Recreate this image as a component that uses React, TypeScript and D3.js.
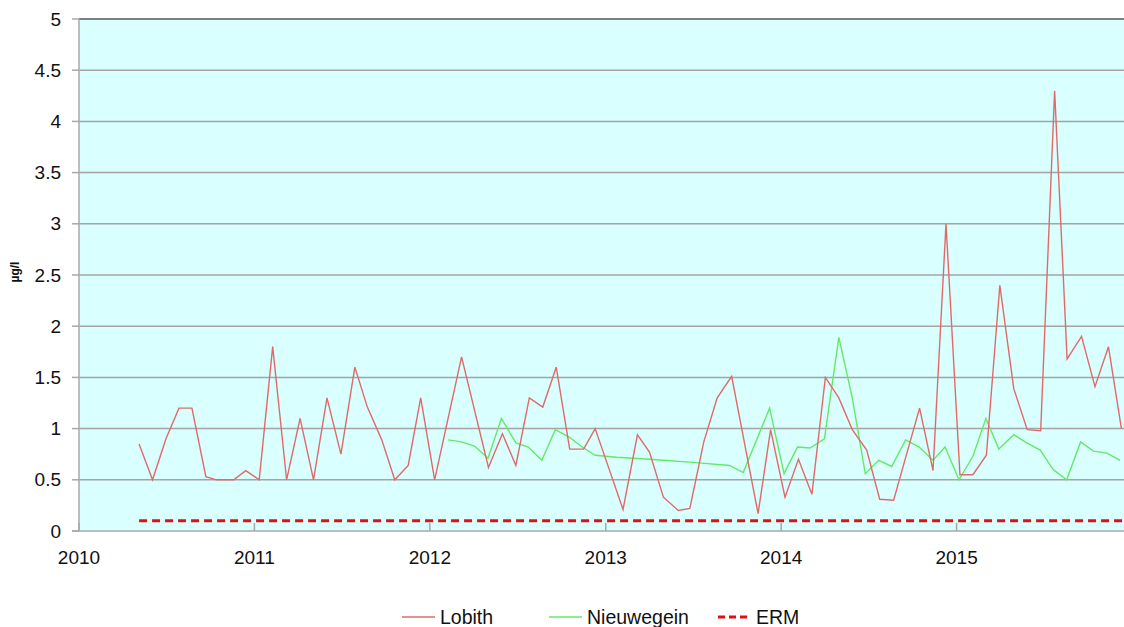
import React from 'react';
import * as d3 from 'd3';

// measurements, 4-weekly sampling
const lobithDates = [
  '2010-05-06', '2010-06-03', '2010-07-01', '2010-07-28', '2010-08-24', '2010-09-22', '2010-10-14',
  '2010-11-19', '2010-12-14', '2011-01-11', '2011-02-08', '2011-03-09', '2011-04-06', '2011-05-04',
  '2011-06-01', '2011-06-30', '2011-07-29', '2011-08-24', '2011-09-23', '2011-10-20', '2011-11-17',
  '2011-12-13', '2012-01-11', '2012-03-07', '2012-05-02', '2012-05-31', '2012-06-28', '2012-07-26',
  '2012-08-23', '2012-09-20', '2012-10-18', '2012-11-16', '2012-12-10', '2013-02-06', '2013-03-08',
  '2013-04-02', '2013-05-01', '2013-06-01', '2013-06-25', '2013-07-24', '2013-08-21', '2013-09-20',
  '2013-11-14', '2013-12-10', '2014-01-09', '2014-02-06', '2014-03-06', '2014-04-03', '2014-05-01',
  '2014-05-29', '2014-06-28', '2014-07-25', '2014-08-23', '2014-10-16', '2014-11-13', '2014-12-10',
  '2015-01-08', '2015-02-04', '2015-03-04', '2015-04-01', '2015-04-30', '2015-05-28', '2015-06-25',
  '2015-07-24', '2015-08-19', '2015-09-18', '2015-10-16', '2015-11-13', '2015-12-10'
];
const lobithValues = [
  0.85, 0.5, 0.9, 1.2, 1.2, 0.53, 0.5,
  0.5, 0.59, 0.5, 1.8, 0.5, 1.1, 0.5,
  1.3, 0.75, 1.6, 1.21, 0.89, 0.5, 0.64,
  1.3, 0.5, 1.7, 0.62, 0.95, 0.64, 1.3,
  1.21, 1.6, 0.8, 0.8, 1.0, 0.21, 0.94,
  0.77, 0.33, 0.2, 0.22, 0.87, 1.3, 1.51,
  0.17, 0.99, 0.33, 0.7, 0.36, 1.5, 1.3,
  0.99, 0.79, 0.31, 0.3, 1.2, 0.59, 3.0,
  0.55, 0.55, 0.74, 2.4, 1.39, 0.99, 0.98,
  4.3, 1.68, 1.9, 1.41, 1.8, 1.0
];

const nieuwegeinDates = [
  '2012-02-08', '2012-03-07', '2012-04-03', '2012-05-01', '2012-05-29', '2012-06-28', '2012-07-24',
  '2012-08-21', '2012-09-18', '2012-10-16', '2012-11-13', '2012-12-10', '2013-01-24', '2013-04-03',
  '2013-07-01', '2013-09-16', '2013-10-14', '2013-12-08', '2014-01-07', '2014-02-04', '2014-03-02',
  '2014-04-01', '2014-05-01', '2014-05-29', '2014-06-25', '2014-07-23', '2014-08-19', '2014-09-17',
  '2014-10-15', '2014-11-13', '2014-12-08', '2015-01-06', '2015-02-04', '2015-03-03', '2015-03-30',
  '2015-04-30', '2015-05-27', '2015-06-24', '2015-07-21', '2015-08-18', '2015-09-16', '2015-10-13',
  '2015-11-10', '2015-12-07'
];
const nieuwegeinValues = [
  0.89, 0.87, 0.83, 0.71, 1.1, 0.86, 0.82,
  0.69, 0.99, 0.92, 0.82, 0.74, 0.72, 0.7,
  0.67, 0.64, 0.57, 1.2, 0.56, 0.82, 0.81,
  0.9, 1.89, 1.3, 0.56, 0.69, 0.63, 0.89,
  0.82, 0.69, 0.82, 0.5, 0.73, 1.1, 0.8,
  0.94, 0.86, 0.79, 0.6, 0.5, 0.87, 0.78,
  0.76, 0.69
];

const ermDates = ['2010-05-06', '2016-01-01'];
const ermValues = [0.1, 0.1];

const yTicks = [0, 0.5, 1, 1.5, 2, 2.5, 3, 3.5, 4, 4.5, 5];
const xTickYears = [2010, 2011, 2012, 2013, 2014, 2015];

const legendItems = [
  { label: 'Lobith', color: '#e06a6a', width: 1.4, dash: '' },
  { label: 'Nieuwegein', color: '#66e866', width: 1.4, dash: '' },
  { label: 'ERM', color: '#e01010', width: 3, dash: '7,4' }
];

const W = 1124;
const H = 627;
const margin = { left: 79, top: 19, right: 1132, bottom: 531 };
const font = '"Liberation Sans", Arial, sans-serif';

const parse = d3.timeParse('%Y-%m-%d');

const App = () => {
  const x = d3
    .scaleTime()
    .domain([new Date(2010, 0, 1), new Date(2016, 0, 1)])
    .range([margin.left, margin.right]);
  const y = d3.scaleLinear().domain([0, 5]).range([margin.bottom, margin.top]);

  const line = d3
    .line<[Date, number]>()
    .x(d => x(d[0]))
    .y(d => y(d[1]));

  const toPts = (dates: string[], vals: number[]) =>
    dates.map((d, i) => [parse(d) as Date, vals[i]] as [Date, number]);

  const lobith = toPts(lobithDates, lobithValues);
  const nieuwegein = toPts(nieuwegeinDates, nieuwegeinValues);
  const erm = toPts(ermDates, ermValues);

  const legendX = [402, 549, 718];

  return (
    <svg
      width={W}
      height={H}
      style={{ position: 'absolute', left: 0, top: 0, background: '#fff' }}
      fontFamily={font}
    >
      <defs>
        <clipPath id='plot'>
          <rect x={margin.left} y={margin.top} width={margin.right - margin.left} height={margin.bottom - margin.top} />
        </clipPath>
      </defs>
      <rect
        x={margin.left}
        y={margin.top}
        width={margin.right - margin.left}
        height={margin.bottom - margin.top}
        fill='#d9ffff'
      />
      {yTicks.slice(1).map(t => (
        <line
          key={t}
          x1={margin.left}
          x2={margin.right}
          y1={y(t)}
          y2={y(t)}
          stroke={t === 5 ? '#7f7f7f' : '#a4a4a4'}
          strokeWidth={t === 5 ? 2 : 1.5}
        />
      ))}
      {/* axes */}
      <line x1={margin.left} x2={margin.left} y1={margin.top} y2={margin.bottom} stroke='#a8a8a8' strokeWidth={1.5} />
      <line x1={margin.left - 7} x2={margin.right} y1={margin.bottom} y2={margin.bottom} stroke='#a8a8a8' strokeWidth={1.5} />
      {yTicks.map(t => (
        <g key={t}>
          <line x1={margin.left - 7} x2={margin.left} y1={y(t)} y2={y(t)} stroke='#a8a8a8' strokeWidth={1.5} />
          <text x={61} y={y(t)} dy='0.35em' textAnchor='end' fontSize={19} fill='#111'>
            {t}
          </text>
        </g>
      ))}
      {xTickYears.map(yr => (
        <g key={yr}>
          <line
            x1={x(new Date(yr, 0, 1))}
            x2={x(new Date(yr, 0, 1))}
            y1={margin.bottom - 8}
            y2={margin.bottom}
            stroke='#a8a8a8'
            strokeWidth={1.5}
          />
          <text x={x(new Date(yr, 0, 1))} y={564} textAnchor='middle' fontSize={19} fill='#111'>
            {yr}
          </text>
        </g>
      ))}
      <text
        transform='translate(19,272) rotate(-90)'
        textAnchor='middle'
        fontSize={12}
        fontWeight='bold'
        fill='#111'
      >
        µg/l
      </text>
      <g clipPath='url(#plot)'>
        <path d={line(erm) || ''} fill='none' stroke='#e01010' strokeWidth={3} strokeDasharray='8,5' />
        <path d={line(nieuwegein) || ''} fill='none' stroke='#66e866' strokeWidth={1.4} />
        <path d={line(lobith) || ''} fill='none' stroke='#e06a6a' strokeWidth={1.4} />
      </g>
      {/* legend */}
      {legendItems.map((it, i) => (
        <g key={it.label}>
          <line
            x1={legendX[i]}
            x2={legendX[i] + 33}
            y1={617}
            y2={617}
            stroke={it.color}
            strokeWidth={it.width}
            strokeDasharray={it.dash}
          />
          <text x={legendX[i] + 38} y={617} dy='0.35em' fontSize={19.5} fill='#111'>
            {it.label}
          </text>
        </g>
      ))}
    </svg>
  );
};

export default App;
